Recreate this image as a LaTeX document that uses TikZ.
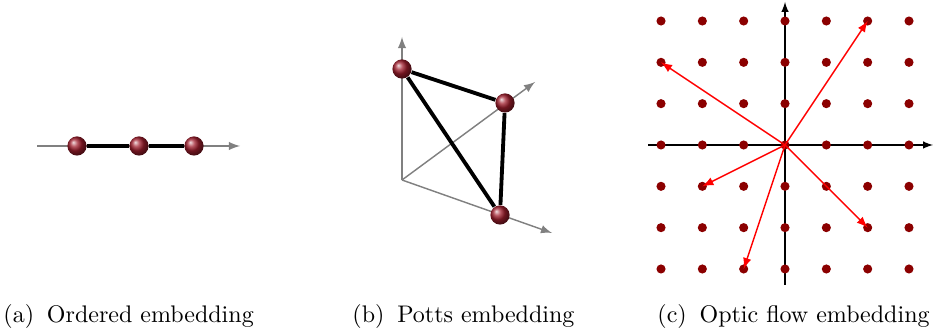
\documentclass[tikz,border=0pt]{standalone}
\usetikzlibrary{backgrounds}
\definecolor{darkred}{RGB}{139,0,0}
\definecolor{maroon}{RGB}{160,30,45}
\begin{document}
\begin{tikzpicture}[x=0.4167pt, y=-0.4167pt, >=latex,
    ball/.style={circle, inner sep=0pt, minimum size=8pt, shading=ball, ball color=maroon},
    dot/.style={circle, inner sep=0pt, minimum size=3.8pt, fill=darkred},
    axis/.style={->, gray, line width=0.6pt},
    link/.style={line width=1.6pt},
    flow/.style={->, red, line width=0.6pt},
    subcap/.style={anchor=base west, inner sep=0pt}]
  \useasboundingbox (0,0) rectangle (933,335);

  % (a) ordered
  \coordinate (a0) at (37,146);
  \coordinate (a1) at (240,146);
  \node[ball] (p1) at (77,146) {};
  \node[ball] (p2) at (139,146) {};
  \node[ball] (p3) at (194,146) {};
  \draw[link] (p1) -- (p2) -- (p3);
  \begin{scope}[on background layer]
    \draw[axis] (a0) -- (a1);
  \end{scope}

  % (b) potts
  \coordinate (o) at (402,180);
  \coordinate (bz) at (402,37);
  \coordinate (by) at (535,82);
  \coordinate (bx) at (552,233);
  \node[ball] (q1) at (402,69) {};
  \node[ball] (q2) at (505,103) {};
  \node[ball] (q3) at (500,215) {};
  \draw[link] (q1) -- (q2) -- (q3) -- (q1);
  \begin{scope}[on background layer]
    \draw[axis] (o) -- (bz);
    \draw[axis] (o) -- (by);
    \draw[axis] (o) -- (bx);
  \end{scope}

  % (c) optic flow
  \coordinate (c0) at (648,145);
  \coordinate (c1) at (933,145);
  \coordinate (c2) at (785,285);
  \coordinate (c3) at (785,2);
  \foreach \i in {-3,...,3}
    \foreach \j in {-3,...,3}
      \node[dot] (d\i\j) at (785+41.33*\i,145-41.33*\j) {};
  \begin{scope}[on background layer]
    \draw[->, line width=0.45pt] (c0) -- (c1);
    \draw[->, line width=0.45pt] (c2) -- (c3);
  \end{scope}
  \draw[flow] (d00.center) -- (d23.center);
  \draw[flow] (d00.center) -- (d-32.center);
  \draw[flow] (d00.center) -- (d-2-1.center);
  \draw[flow] (d00.center) -- (d-1-3.center);
  \draw[flow] (d00.center) -- (d2-2.center);

  % captions
  \node[subcap] (ta) at (3,323) {(a)\hspace{2pt} Ordered embedding};
  \node[subcap] (tb) at (352,323) {(b)\hspace{2pt} Potts embedding};
  \node[subcap] (tc) at (657,323) {(c)\hspace{2pt} Optic flow embedding};
\end{tikzpicture}
\end{document}
